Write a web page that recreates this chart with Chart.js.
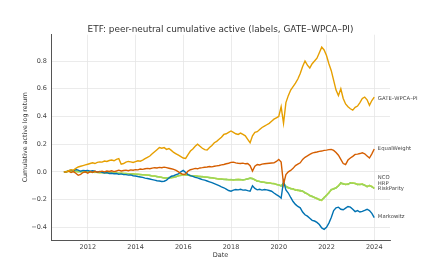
<!DOCTYPE html>
<html>
<head>
<meta charset="utf-8">
<script src="https://cdn.jsdelivr.net/npm/chart.js@4.4.1/dist/chart.umd.min.js"></script>
<style>
  html, body { margin: 0; padding: 0; background: #fff; }
  #wrap { width: 435px; height: 267px; }
</style>
</head>
<body>
<div id="wrap"><canvas id="chart" width="435" height="267"></canvas></div>
<script>
// Dates as decimal years
const dates = [
  2011.0, 2011.1, 2011.2, 2011.3, 2011.4, 2011.5, 2011.6, 2011.7, 2011.8, 2011.9,
  2012.0, 2012.1, 2012.2, 2012.3, 2012.4, 2012.5, 2012.6, 2012.7, 2012.8, 2012.9,
  2013.0, 2013.1, 2013.2, 2013.3, 2013.4, 2013.5, 2013.6, 2013.7, 2013.8, 2013.9,
  2014.0, 2014.1, 2014.2, 2014.3, 2014.4, 2014.5, 2014.6, 2014.7, 2014.8, 2014.9,
  2015.0, 2015.1, 2015.2, 2015.3, 2015.4, 2015.5, 2015.6, 2015.7, 2015.8, 2015.9,
  2016.0, 2016.1, 2016.2, 2016.3, 2016.4, 2016.5, 2016.6, 2016.7, 2016.8, 2016.9,
  2017.0, 2017.1, 2017.2, 2017.3, 2017.4, 2017.5, 2017.6, 2017.7, 2017.8, 2017.9,
  2018.0, 2018.1, 2018.2, 2018.3, 2018.4, 2018.5, 2018.6, 2018.7, 2018.8, 2018.9,
  2019.0, 2019.1, 2019.2, 2019.3, 2019.4, 2019.5, 2019.6, 2019.7, 2019.8, 2019.9,
  2020.0, 2020.1, 2020.2, 2020.3, 2020.4, 2020.5, 2020.6, 2020.7, 2020.8, 2020.9,
  2021.0, 2021.1, 2021.2, 2021.3, 2021.4, 2021.5, 2021.6, 2021.7, 2021.8, 2021.9,
  2022.0, 2022.1, 2022.2, 2022.3, 2022.4, 2022.5, 2022.6, 2022.7, 2022.8, 2022.9,
  2023.0, 2023.1, 2023.2, 2023.3, 2023.4, 2023.5, 2023.6, 2023.7, 2023.8, 2023.9,
  2024.0
];

const gateWpcaPi = [
  0.0, 0.0, 0.008, 0.015, 0.012, 0.025, 0.035, 0.04, 0.045, 0.05,
  0.055, 0.06, 0.065, 0.06, 0.068, 0.072, 0.07, 0.078, 0.075, 0.082,
  0.085, 0.08, 0.09, 0.095, 0.055, 0.06, 0.07, 0.075, 0.072, 0.068,
  0.074, 0.08, 0.077, 0.085, 0.095, 0.105, 0.114, 0.13, 0.145, 0.16,
  0.175, 0.17, 0.175, 0.162, 0.168, 0.155, 0.14, 0.13, 0.12, 0.11,
  0.1, 0.097, 0.125, 0.15, 0.165, 0.185, 0.2, 0.185, 0.17, 0.16,
  0.157, 0.175, 0.19, 0.21, 0.22, 0.235, 0.25, 0.27, 0.275, 0.285,
  0.295, 0.285, 0.275, 0.27, 0.28, 0.27, 0.26, 0.235, 0.21, 0.26,
  0.285, 0.29, 0.305, 0.32, 0.33, 0.34, 0.35, 0.365, 0.38, 0.39,
  0.40, 0.47, 0.35, 0.5, 0.55, 0.59, 0.615, 0.64, 0.67, 0.71,
  0.76, 0.80, 0.77, 0.75, 0.78, 0.8, 0.82, 0.86, 0.9, 0.88,
  0.84, 0.78, 0.73, 0.66, 0.59, 0.55, 0.6, 0.53, 0.49, 0.47,
  0.455, 0.445, 0.465, 0.475, 0.5, 0.53, 0.54, 0.52, 0.48, 0.515,
  0.54
];

const equalWeight = [
  0.0, 0.0, 0.005, -0.005, 0.002, -0.01, -0.025, -0.018, -0.005, 0.0,
  -0.01, 0.002, -0.004, 0.004, -0.003, 0.002, 0.005, 0.0, 0.006, 0.003,
  0.008, 0.002, 0.006, 0.012, 0.006, 0.01, 0.012, 0.008, 0.014, 0.012,
  0.016, 0.014, 0.02, 0.018, 0.022, 0.025, 0.022, 0.027, 0.03, 0.028,
  0.032, 0.03, 0.034, 0.03, 0.026, 0.022, 0.018, 0.01, 0.0, -0.012,
  -0.02, -0.015, 0.005, 0.015, 0.02, 0.025, 0.022, 0.028, 0.03, 0.033,
  0.035, 0.038, 0.036, 0.04, 0.043, 0.046, 0.05, 0.053, 0.058, 0.062,
  0.068, 0.07, 0.065, 0.062, 0.06, 0.063, 0.058, 0.06, 0.045, 0.005,
  0.04, 0.053, 0.05, 0.056, 0.058, 0.06, 0.062, 0.064, 0.065, 0.075,
  0.09, 0.07, -0.09, -0.02, 0.0, 0.01, 0.025, 0.045, 0.055, 0.065,
  0.09, 0.105, 0.115, 0.126, 0.135, 0.14, 0.143, 0.148, 0.15, 0.155,
  0.157, 0.16, 0.162, 0.155, 0.14, 0.12, 0.09, 0.06, 0.053, 0.085,
  0.1, 0.112, 0.126, 0.128, 0.132, 0.138, 0.13, 0.115, 0.1, 0.13,
  0.165
];

const nco = [
  0.0, 0.002, 0.004, 0.003, 0.005, 0.002, 0.004, 0.001, 0.002, -0.001,
  0.0, -0.002, -0.003, -0.002, -0.005, -0.004, -0.006, -0.005, -0.007, -0.006,
  -0.009, -0.008, -0.01, -0.01, -0.012, -0.011, -0.013, -0.013, -0.016, -0.015,
  -0.018, -0.017, -0.02, -0.021, -0.021, -0.025, -0.025, -0.03, -0.03, -0.035,
  -0.036, -0.041, -0.043, -0.046, -0.041, -0.043, -0.038, -0.036, -0.027, -0.026,
  -0.019, -0.023, -0.023, -0.028, -0.028, -0.032, -0.031, -0.035, -0.034, -0.038,
  -0.038, -0.043, -0.042, -0.047, -0.048, -0.053, -0.052, -0.056, -0.054, -0.058,
  -0.055, -0.059, -0.055, -0.057, -0.055, -0.059, -0.054, -0.052, -0.045, -0.05,
  -0.057, -0.068, -0.069, -0.075, -0.075, -0.08, -0.079, -0.085, -0.084, -0.092,
  -0.094, -0.103, -0.082, -0.106, -0.113, -0.123, -0.122, -0.133, -0.131, -0.138,
  -0.138, -0.153, -0.157, -0.173, -0.176, -0.188, -0.19, -0.203, -0.202, -0.188,
  -0.167, -0.153, -0.127, -0.125, -0.114, -0.103, -0.079, -0.089, -0.089, -0.091,
  -0.079, -0.083, -0.082, -0.093, -0.089, -0.091, -0.095, -0.108, -0.097, -0.109,
  -0.117
];

const hrp = [
  0.0, -0.001, 0.002, 0.006, 0.003, 0.005, 0.0, 0.004, -0.001, -0.001,
  -0.002, -0.002, -0.001, -0.005, -0.002, -0.006, -0.003, -0.007, -0.005, -0.008,
  -0.007, -0.01, -0.008, -0.012, -0.009, -0.013, -0.011, -0.015, -0.014, -0.017,
  -0.016, -0.019, -0.018, -0.021, -0.023, -0.023, -0.027, -0.028, -0.032, -0.033,
  -0.038, -0.039, -0.045, -0.043, -0.043, -0.04, -0.041, -0.033, -0.029, -0.023,
  -0.021, -0.02, -0.025, -0.026, -0.03, -0.029, -0.033, -0.032, -0.036, -0.036,
  -0.04, -0.04, -0.044, -0.045, -0.05, -0.05, -0.054, -0.053, -0.056, -0.055,
  -0.057, -0.056, -0.057, -0.054, -0.057, -0.056, -0.056, -0.049, -0.047, -0.047,
  -0.059, -0.065, -0.071, -0.072, -0.077, -0.077, -0.081, -0.082, -0.086, -0.089,
  -0.096, -0.099, -0.087, -0.104, -0.118, -0.118, -0.128, -0.128, -0.136, -0.133,
  -0.143, -0.148, -0.163, -0.168, -0.181, -0.183, -0.196, -0.198, -0.207, -0.183,
  -0.171, -0.148, -0.132, -0.12, -0.118, -0.098, -0.084, -0.084, -0.093, -0.086,
  -0.083, -0.078, -0.086, -0.088, -0.093, -0.086, -0.099, -0.103, -0.101, -0.104,
  -0.121
];

const riskParity = [
  0.0, 0.0, 0.003, 0.005, 0.002, 0.004, 0.001, 0.003, 0.0, -0.002,
  -0.001, -0.003, -0.002, -0.004, -0.003, -0.005, -0.004, -0.006, -0.006, -0.007,
  -0.008, -0.009, -0.009, -0.011, -0.01, -0.012, -0.012, -0.014, -0.015, -0.016,
  -0.017, -0.018, -0.019, -0.02, -0.022, -0.024, -0.026, -0.029, -0.031, -0.034,
  -0.037, -0.04, -0.044, -0.044, -0.042, -0.041, -0.04, -0.034, -0.028, -0.024,
  -0.02, -0.021, -0.024, -0.027, -0.029, -0.03, -0.032, -0.033, -0.035, -0.037,
  -0.039, -0.041, -0.043, -0.046, -0.049, -0.051, -0.053, -0.054, -0.055, -0.056,
  -0.056, -0.057, -0.056, -0.055, -0.056, -0.057, -0.055, -0.05, -0.046, -0.048,
  -0.058, -0.066, -0.07, -0.073, -0.076, -0.078, -0.08, -0.083, -0.085, -0.09,
  -0.095, -0.1, -0.085, -0.105, -0.115, -0.12, -0.125, -0.13, -0.133, -0.135,
  -0.14, -0.15, -0.16, -0.17, -0.178, -0.185, -0.193, -0.2, -0.205, -0.185,
  -0.17, -0.15, -0.13, -0.122, -0.117, -0.1, -0.082, -0.086, -0.092, -0.088,
  -0.082, -0.08, -0.085, -0.09, -0.092, -0.088, -0.098, -0.105, -0.1, -0.106,
  -0.12
];

const markowitz = [
  0.0, 0.0, 0.008, 0.012, 0.006, 0.017, 0.012, 0.004, 0.01, 0.008,
  0.01, 0.004, 0.008, 0.005, -0.002, 0.003, -0.004, -0.008, -0.006, -0.012,
  -0.01, -0.014, -0.012, -0.018, -0.015, -0.02, -0.02, -0.024, -0.022, -0.028,
  -0.03, -0.034, -0.037, -0.04, -0.045, -0.048, -0.052, -0.056, -0.06, -0.064,
  -0.066, -0.07, -0.068, -0.06, -0.045, -0.032, -0.028, -0.02, -0.015, 0.0,
  0.01, -0.005, -0.02, -0.028, -0.033, -0.04, -0.044, -0.05, -0.056, -0.06,
  -0.066, -0.072, -0.078, -0.085, -0.092, -0.1, -0.108, -0.115, -0.125, -0.135,
  -0.14, -0.132, -0.128, -0.13, -0.126, -0.132, -0.13, -0.136, -0.14, -0.1,
  -0.12, -0.13, -0.126, -0.132, -0.128, -0.13, -0.135, -0.14, -0.153, -0.165,
  -0.175, -0.19, -0.068, -0.13, -0.153, -0.185, -0.214, -0.235, -0.25, -0.26,
  -0.29, -0.31, -0.32, -0.335, -0.35, -0.355, -0.365, -0.38, -0.405, -0.415,
  -0.4, -0.37, -0.33, -0.28, -0.26, -0.255, -0.27, -0.274, -0.262, -0.25,
  -0.255, -0.27, -0.287, -0.28, -0.29, -0.285, -0.278, -0.27, -0.28, -0.3,
  -0.33
];

const xTicks = [2012, 2014, 2016, 2018, 2020, 2022, 2024];
const yTicks = [-0.4, -0.2, 0.0, 0.2, 0.4, 0.6, 0.8];

// Right-hand labels and the value they sit at
const endLabels = ['GATE–WPCA–PI', 'EqualWeight', 'NCO', 'HRP', 'RiskParity', 'Markowitz'];
const endLabelValues = [0.53, 0.167, -0.044, -0.082, -0.12, -0.32];
const endLabelYear = 2024.15;

const series = [
  { label: 'GATE–WPCA–PI', data: gateWpcaPi, color: '#E69F00' },
  { label: 'EqualWeight', data: equalWeight, color: '#D55E00' },
  { label: 'Markowitz', data: markowitz, color: '#0072B2' },
  { label: 'RiskParity', data: riskParity, color: '#9BD65A' },
  { label: 'HRP', data: hrp, color: '#E8E23E' },
  { label: 'NCO', data: nco, color: '#72C451' }
];

const font = 'DejaVu Sans';

const endLabelPlugin = {
  id: 'endLabels',
  afterDatasetsDraw(chart) {
    const ctx = chart.ctx;
    const xs = chart.scales.x, ys = chart.scales.y;
    ctx.save();
    ctx.font = '5.3px "' + font + '"';
    ctx.fillStyle = '#444';
    ctx.textAlign = 'left';
    ctx.textBaseline = 'middle';
    endLabels.forEach((t, i) => {
      ctx.fillText(t, xs.getPixelForValue(endLabelYear), ys.getPixelForValue(endLabelValues[i]));
    });
    ctx.restore();
  }
};

new Chart(document.getElementById('chart'), {
  type: 'line',
  data: {
    datasets: series.map(s => ({
      label: s.label,
      data: dates.map((d, i) => ({ x: d, y: s.data[i] })),
      borderColor: s.color,
      borderWidth: 1.4,
      pointRadius: 0,
      tension: 0,
      fill: false
    }))
  },
  options: {
    responsive: false,
    animation: false,
    devicePixelRatio: 1,
    layout: { padding: { left: 6, right: 0, top: 0, bottom: 0 } },
    plugins: {
      legend: { display: false },
      tooltip: { enabled: false },
      title: {
        display: true,
        text: 'ETF: peer-neutral cumulative active (labels, GATE–WPCA–PI)',
        color: '#333',
        font: { family: font, size: 8.9, weight: 'normal' },
        padding: { top: 24, bottom: 0 }
      }
    },
    scales: {
      x: {
        type: 'linear',
        min: 2010.46,
        max: 2024.66,
        afterBuildTicks: s => { s.ticks = xTicks.map(v => ({ value: v })); },
        afterFit: s => { s.height = 27; },
        ticks: {
          color: '#444',
          font: { family: font, size: 6.5 },
          padding: 3,
          maxRotation: 0,
          callback: v => String(v)
        },
        grid: { color: '#e6e6e6', lineWidth: 0.8, drawTicks: false },
        border: { color: '#555', width: 1 },
        title: {
          display: true,
          text: 'Date',
          color: '#333',
          font: { family: font, size: 6.5 },
          padding: { top: 0, bottom: 8 }
        }
      },
      y: {
        min: -0.492,
        max: 0.99,
        afterBuildTicks: s => { s.ticks = yTicks.map(v => ({ value: v })); },
        afterFit: s => { s.width = 45; },
        ticks: {
          color: '#444',
          font: { family: font, size: 6.5 },
          padding: 4,
          callback: v => (v < 0 ? '\u2212' : '') + Math.abs(v).toFixed(1)
        },
        grid: { color: '#e6e6e6', lineWidth: 0.8, drawTicks: false },
        border: { color: '#555', width: 1 },
        title: {
          display: true,
          text: 'Cumulative active log return',
          color: '#333',
          font: { family: font, size: 6.3 },
          padding: { top: 16, bottom: 0 }
        }
      },
      // empty right-hand axis that only reserves room for the end labels
      yRight: {
        position: 'right',
        display: true,
        min: -0.492,
        max: 0.99,
        afterFit: s => { s.width = 45; },
        ticks: { display: false },
        grid: { display: false, drawTicks: false },
        border: { display: false },
        title: { display: false }
      }
    }
  },
  plugins: [endLabelPlugin]
});
</script>
</body>
</html>
